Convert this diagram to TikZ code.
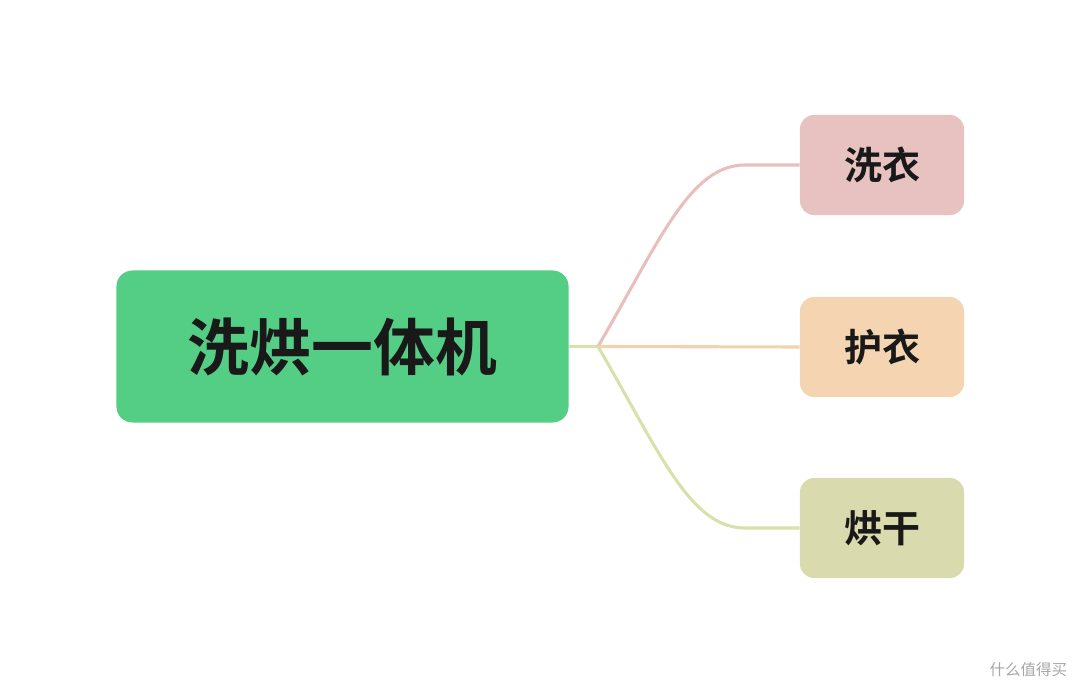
\documentclass[tikz,border=0pt]{standalone}
\usepackage{fontspec}
\newfontfamily\cjk{Noto Sans CJK SC}
\newfontfamily\cjkb{Noto Sans CJK SC Bold}
\usetikzlibrary{positioning}
\definecolor{rootgreen}{HTML}{54CD85}
\definecolor{washpink}{HTML}{E8C1C1}
\definecolor{careorange}{HTML}{F4D4B1}
\definecolor{dryolive}{HTML}{D9DBAE}
\definecolor{linkpink}{HTML}{E8BFBC}
\definecolor{linkorange}{HTML}{F0D3AD}
\definecolor{linkolive}{HTML}{D8E1A9}
\tikzset{
    root/.style={rounded corners=0.4cm, fill=rootgreen, minimum width=11.3cm,
        minimum height=3.8cm, font=\cjkb\fontsize{44}{48}\selectfont, text=black!90},
    leaf/.style={rounded corners=0.35cm, minimum width=4.1cm,
        minimum height=2.5cm, font=\cjkb\fontsize{27}{30}\selectfont, text=black!90},
    link/.style={line width=2.2pt}
}
\begin{document}
\begin{tikzpicture}[x=0.025cm, y=-0.025cm]
    \useasboundingbox (0, 0) rectangle (1080, 694);
    % root
    \node[root] (machine) at (342.5, 346.5) {洗烘一体机};
    \coordinate (fork) at (598, 346.5);
    % leaves
    \node[leaf, fill=washpink] (wash) at (882, 165) {洗衣};
    \node[leaf, fill=careorange] (care) at (882, 347) {护衣};
    \node[leaf, fill=dryolive] (dry) at (882, 528) {烘干};
    % links
    \draw[link, linkolive] (machine.east) -- (fork);
    \draw[link, linkpink] (fork) .. controls (660, 240) and (690, 165) .. (745, 165) -- (wash.west);
    \draw[link, linkorange] (fork) -- (care.west);
    \draw[link, linkolive] (fork) .. controls (660, 453) and (690, 528) .. (745, 528) -- (dry.west);
    % watermark
    \node[text=black!35, font=\cjk\fontsize{11}{12}\selectfont, anchor=east] (mark) at (1072, 670) {什么值得买};
\end{tikzpicture}
\end{document}
